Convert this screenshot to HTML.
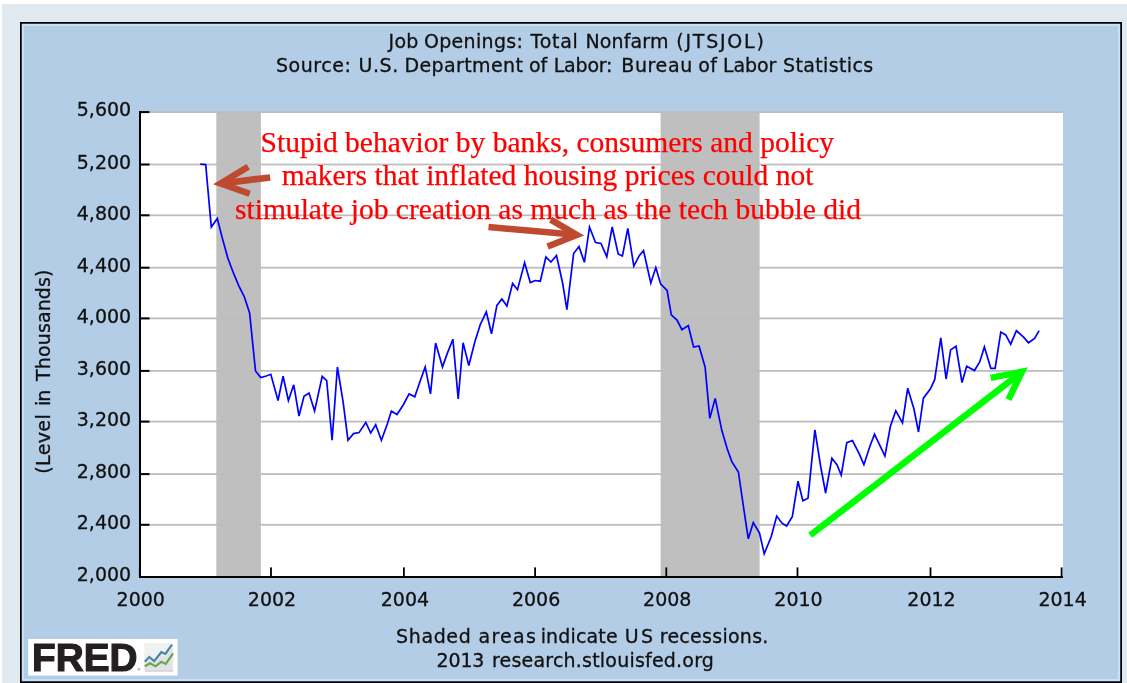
<!DOCTYPE html>
<html lang="en"><head><meta charset="utf-8"><title>Job Openings: Total Nonfarm (JTSJOL)</title>
<style>html,body{margin:0;padding:0;background:#fff;}svg{display:block;}</style></head>
<body>
<svg width="1127" height="683" viewBox="0 0 1127 683">
<rect x="0" y="0" width="1127" height="683" fill="#ffffff"/>
<rect x="2" y="4" width="1125" height="679" fill="#e1e9f0"/>
<rect x="20" y="22" width="1102" height="661" fill="#000000"/>
<rect x="21.75" y="23.75" width="1098.5" height="657.5" fill="#c8e2f9"/>
<rect x="23.9" y="25.9" width="1094.2" height="653.2" fill="#b3cde7"/>
<rect x="141" y="112" width="922" height="465" fill="#ffffff"/>
<rect x="216.3" y="112" width="44.6" height="465" fill="#bfbfbf"/>
<rect x="660.6" y="112" width="99" height="465" fill="#bfbfbf"/>
<rect x="141" y="111.2" width="922" height="1.8" fill="#bdbdbd"/>
<rect x="141" y="163.6" width="922" height="1.8" fill="#bdbdbd"/>
<rect x="141" y="214.4" width="922" height="1.8" fill="#bdbdbd"/>
<rect x="141" y="266.8" width="922" height="1.8" fill="#bdbdbd"/>
<rect x="141" y="317.5" width="922" height="1.8" fill="#bdbdbd"/>
<rect x="141" y="370.0" width="922" height="1.8" fill="#bdbdbd"/>
<rect x="141" y="420.7" width="922" height="1.8" fill="#bdbdbd"/>
<rect x="141" y="473.2" width="922" height="1.8" fill="#bdbdbd"/>
<rect x="141" y="523.9" width="922" height="1.8" fill="#bdbdbd"/>
<rect x="139" y="111" width="2" height="467" fill="#000"/>
<rect x="139" y="576" width="924" height="2" fill="#000"/>
<rect x="139" y="111.1" width="10.5" height="2" fill="#000"/>
<rect x="139" y="163.5" width="10.5" height="2" fill="#000"/>
<rect x="139" y="214.3" width="10.5" height="2" fill="#000"/>
<rect x="139" y="266.7" width="10.5" height="2" fill="#000"/>
<rect x="139" y="317.4" width="10.5" height="2" fill="#000"/>
<rect x="139" y="369.9" width="10.5" height="2" fill="#000"/>
<rect x="139" y="420.6" width="10.5" height="2" fill="#000"/>
<rect x="139" y="473.1" width="10.5" height="2" fill="#000"/>
<rect x="139" y="523.8" width="10.5" height="2" fill="#000"/>
<rect x="139" y="576.0" width="10.5" height="2" fill="#000"/>
<rect x="138.9" y="567.4" width="1.8" height="9.6" fill="#000"/>
<rect x="270.1" y="567.4" width="1.8" height="9.6" fill="#000"/>
<rect x="403.0" y="567.4" width="1.8" height="9.6" fill="#000"/>
<rect x="534.2" y="567.4" width="1.8" height="9.6" fill="#000"/>
<rect x="665.4" y="567.4" width="1.8" height="9.6" fill="#000"/>
<rect x="796.6" y="567.4" width="1.8" height="9.6" fill="#000"/>
<rect x="929.6" y="567.4" width="1.8" height="9.6" fill="#000"/>
<rect x="1060.7" y="567.4" width="1.8" height="9.6" fill="#000"/>
<g font-family="'DejaVu Sans', 'Liberation Sans', sans-serif" font-size="19" fill="#111" stroke="#111" stroke-width="0.3">
<text x="131.2" y="116.3" text-anchor="end">5,600</text>
<text x="131.2" y="168.7" text-anchor="end">5,200</text>
<text x="131.2" y="219.5" text-anchor="end">4,800</text>
<text x="131.2" y="271.9" text-anchor="end">4,400</text>
<text x="131.2" y="322.6" text-anchor="end">4,000</text>
<text x="131.2" y="375.1" text-anchor="end">3,600</text>
<text x="131.2" y="425.8" text-anchor="end">3,200</text>
<text x="131.2" y="478.3" text-anchor="end">2,800</text>
<text x="131.2" y="529.0" text-anchor="end">2,400</text>
<text x="131.2" y="581.2" text-anchor="end">2,000</text>
<text x="140.8" y="605.8" text-anchor="middle">2000</text>
<text x="272.0" y="605.8" text-anchor="middle">2002</text>
<text x="404.9" y="605.8" text-anchor="middle">2004</text>
<text x="536.1" y="605.8" text-anchor="middle">2006</text>
<text x="667.3" y="605.8" text-anchor="middle">2008</text>
<text x="798.5" y="605.8" text-anchor="middle">2010</text>
<text x="931.5" y="605.8" text-anchor="middle">2012</text>
<text x="1062.6" y="605.8" text-anchor="middle">2014</text>
<text y="47.6"><tspan x="388.5" textLength="29.9" lengthAdjust="spacing">Job</tspan> <tspan x="423.9" textLength="99.0" lengthAdjust="spacing">Openings:</tspan> <tspan x="530.5" textLength="47.4" lengthAdjust="spacing">Total</tspan> <tspan x="585.4" textLength="83.1" lengthAdjust="spacing">Nonfarm</tspan> <tspan x="676.3" textLength="87.5" lengthAdjust="spacing">(JTSJOL)</tspan></text>
<text y="71.8"><tspan x="275.9" textLength="75.1" lengthAdjust="spacing">Source:</tspan> <tspan x="358.4" textLength="39.9" lengthAdjust="spacing">U.S.</tspan> <tspan x="404.4" textLength="118.5" lengthAdjust="spacing">Department</tspan> <tspan x="529.0" textLength="18.1" lengthAdjust="spacing">of</tspan> <tspan x="553.7" textLength="58.8" lengthAdjust="spacing">Labor:</tspan> <tspan x="621.3" textLength="70.9" lengthAdjust="spacing">Bureau</tspan> <tspan x="698.3" textLength="18.7" lengthAdjust="spacing">of</tspan> <tspan x="723.1" textLength="53.1" lengthAdjust="spacing">Labor</tspan> <tspan x="783.0" textLength="90.2" lengthAdjust="spacing">Statistics</tspan></text>
<text y="642.6"><tspan x="396.1" textLength="74.6" lengthAdjust="spacing">Shaded</tspan> <tspan x="478.6" textLength="57.2" lengthAdjust="spacing">areas</tspan> <tspan x="540.7" textLength="76.9" lengthAdjust="spacing">indicate</tspan> <tspan x="624.8" textLength="28.3" lengthAdjust="spacing">US</tspan> <tspan x="659.7" textLength="108.7" lengthAdjust="spacing">recessions.</tspan></text>
<text y="667"><tspan x="436.6" textLength="47.8" lengthAdjust="spacing">2013</tspan> <tspan x="491.9" textLength="222.0" lengthAdjust="spacing">research.stlouisfed.org</tspan></text>
<g transform="translate(50.4,0) rotate(-90)"><text y="0"><tspan x="-473.7" textLength="59.4" lengthAdjust="spacing">(Level</tspan> <tspan x="-406.0" textLength="16.3" lengthAdjust="spacing">in</tspan> <tspan x="-380.9" textLength="111.4" lengthAdjust="spacing">Thousands)</tspan></text></g>
</g>
<polyline points="200.2,164.2 205.7,164.6 211.3,227 217.3,218.5 222.4,238.4 227.8,258 233.3,272.7 238.6,285.3 244.2,296.5 249.6,313 255.5,371 260.7,377.6 266.3,376 270.8,374.3 278,400.5 283.1,376.3 288.4,400.5 293.75,384.8 299,416 304,396.2 309,393 314.6,411 322.2,376.3 326.7,380.6 332.1,440.2 337.4,367 343.1,401.9 348,440.2 353.5,433.6 359,432.6 365.8,422.5 370.7,433 375.7,424.6 381.4,440.2 387.3,424 391.4,411 397,414.5 403.5,404.5 409.1,393.9 414.8,396.7 419.9,381.8 425.2,366.9 430.5,393.9 435.6,343 442.5,366.9 447.3,353.4 452.9,339.2 458.2,398.9 463.1,342.8 468.8,365.5 474.8,342 480.3,324.5 486.3,311.8 491.5,333.8 496.9,305.4 501.9,299 506.9,306.1 512.6,283.4 517.5,289.7 524.6,262.8 530.3,282.6 535.2,280.5 540.3,281.2 545.9,257 550.9,262 556.5,255.5 562.6,283 566.9,309.6 573.6,253.5 579,246.6 584.4,262.3 589.5,227 595.5,242.6 601,243.4 606.8,256.8 612.2,227 618.2,254 622.4,256.1 627.8,228.4 633.8,266.1 639.4,255.4 643.5,250.5 650.8,283 655.8,267.5 660.7,284 667.1,290.5 671.3,314.8 677,320 681.9,329.7 688.3,325.5 693.6,347 699,346 705.1,367 709.8,418.3 715.2,398.4 721.8,430.3 727.2,448.8 731.8,461.6 738.4,472 743.7,508.3 748.3,538.8 753.3,522.5 759.5,533 764.2,553.8 771.2,536.7 776.7,516.1 782.1,523.2 786.6,526 792.3,516.8 798,481.2 802.9,500.7 808,498.2 814.9,429.8 820.6,466 825.6,493 831.9,458.3 837,464.7 841.2,475.1 846.8,442.6 852.5,440.5 859,453.3 863.9,464.7 869.9,446.2 874.5,434.1 880.9,447.6 884.9,456.1 890.4,426.3 895.8,410.8 902.5,423 907.7,388.2 913.9,408.8 918.5,432 923.4,398.2 930.3,389 934.7,379.7 940.8,337.8 946.1,379 950.6,349.9 956,346.3 962,382.5 966.7,366.2 974.5,370.5 979.7,361.9 984.4,347 990.8,368.3 995.1,368.3 1000.8,332.1 1005.7,334.9 1010.7,344.2 1016.4,330.7 1023.6,337.1 1028.5,342.8 1034.6,338.5 1039.1,330.7" fill="none" stroke="#0000ff" stroke-width="1.7" stroke-linejoin="miter"/>
<g font-family="'Liberation Serif', serif" font-size="29.55" fill="#ff0000" stroke="#ff0000" stroke-width="0.25" text-anchor="middle">
<text x="547.3" y="151.5">Stupid behavior by banks, consumers and policy</text>
<text x="547.6" y="185.2">makers that inflated housing prices could not</text>
<text x="548" y="218.6">stimulate job creation as much as the tech bubble did</text>
</g>
<g fill="none" stroke="#be4b30" stroke-width="6.5" stroke-linecap="butt" stroke-linejoin="miter" stroke-miterlimit="10">
<path d="M270.2,177.4 L221.5,183.4"/>
<path d="M248.2,166.7 L220.6,183.5 L249.7,193.8"/>
<path d="M488.5,227 L576,234.8"/>
<path d="M550.7,219.6 L576.8,234.9 L547.6,246.6"/>
</g>
<g fill="none" stroke="#00ff00" stroke-width="6.5" stroke-linecap="butt" stroke-linejoin="miter" stroke-miterlimit="10">
<path d="M810.2,535.3 L1021,372.5"/>
<path d="M990.7,377.9 L1022,371.75 L1008.4,399.6"/>
</g>
<rect x="28.2" y="639" width="149.4" height="36.6" fill="#ffffff"/>
<text x="32" y="670.7" font-family="'Liberation Sans', sans-serif" font-weight="bold" font-size="38" fill="#231f20" stroke="#231f20" stroke-width="1.2" textLength="105.5" lengthAdjust="spacingAndGlyphs">FRED</text>
<text x="137.2" y="670.6" font-family="'Liberation Sans', sans-serif" font-size="4" fill="#231f20">®</text>
<g>
<rect x="144.2" y="643" width="29.3" height="28.6" rx="1.5" fill="#f1f1f1"/>
<rect x="145" y="669.6" width="28" height="2.2" fill="#d6d6d6"/>
<path d="M144.8,669.5 L144.8,664 L149.3,659.5 L154.1,663.5 L161.3,655 L165.4,657 L172.5,647 L172.5,669.5 Z" fill="#e2e2e6"/>
<polyline points="144.8,661.8 149.3,657 154.1,661.1 161.3,652.2 165.4,653.9 172,644.6" fill="none" stroke="#4a86a8" stroke-width="2.2"/>
<polyline points="144.8,666.3 150,663.2 155.5,666.3 161.3,661.8 165.8,663.9 173,653.5" fill="none" stroke="#6aa84f" stroke-width="2.2"/>
</g>
</svg>
</body></html>
